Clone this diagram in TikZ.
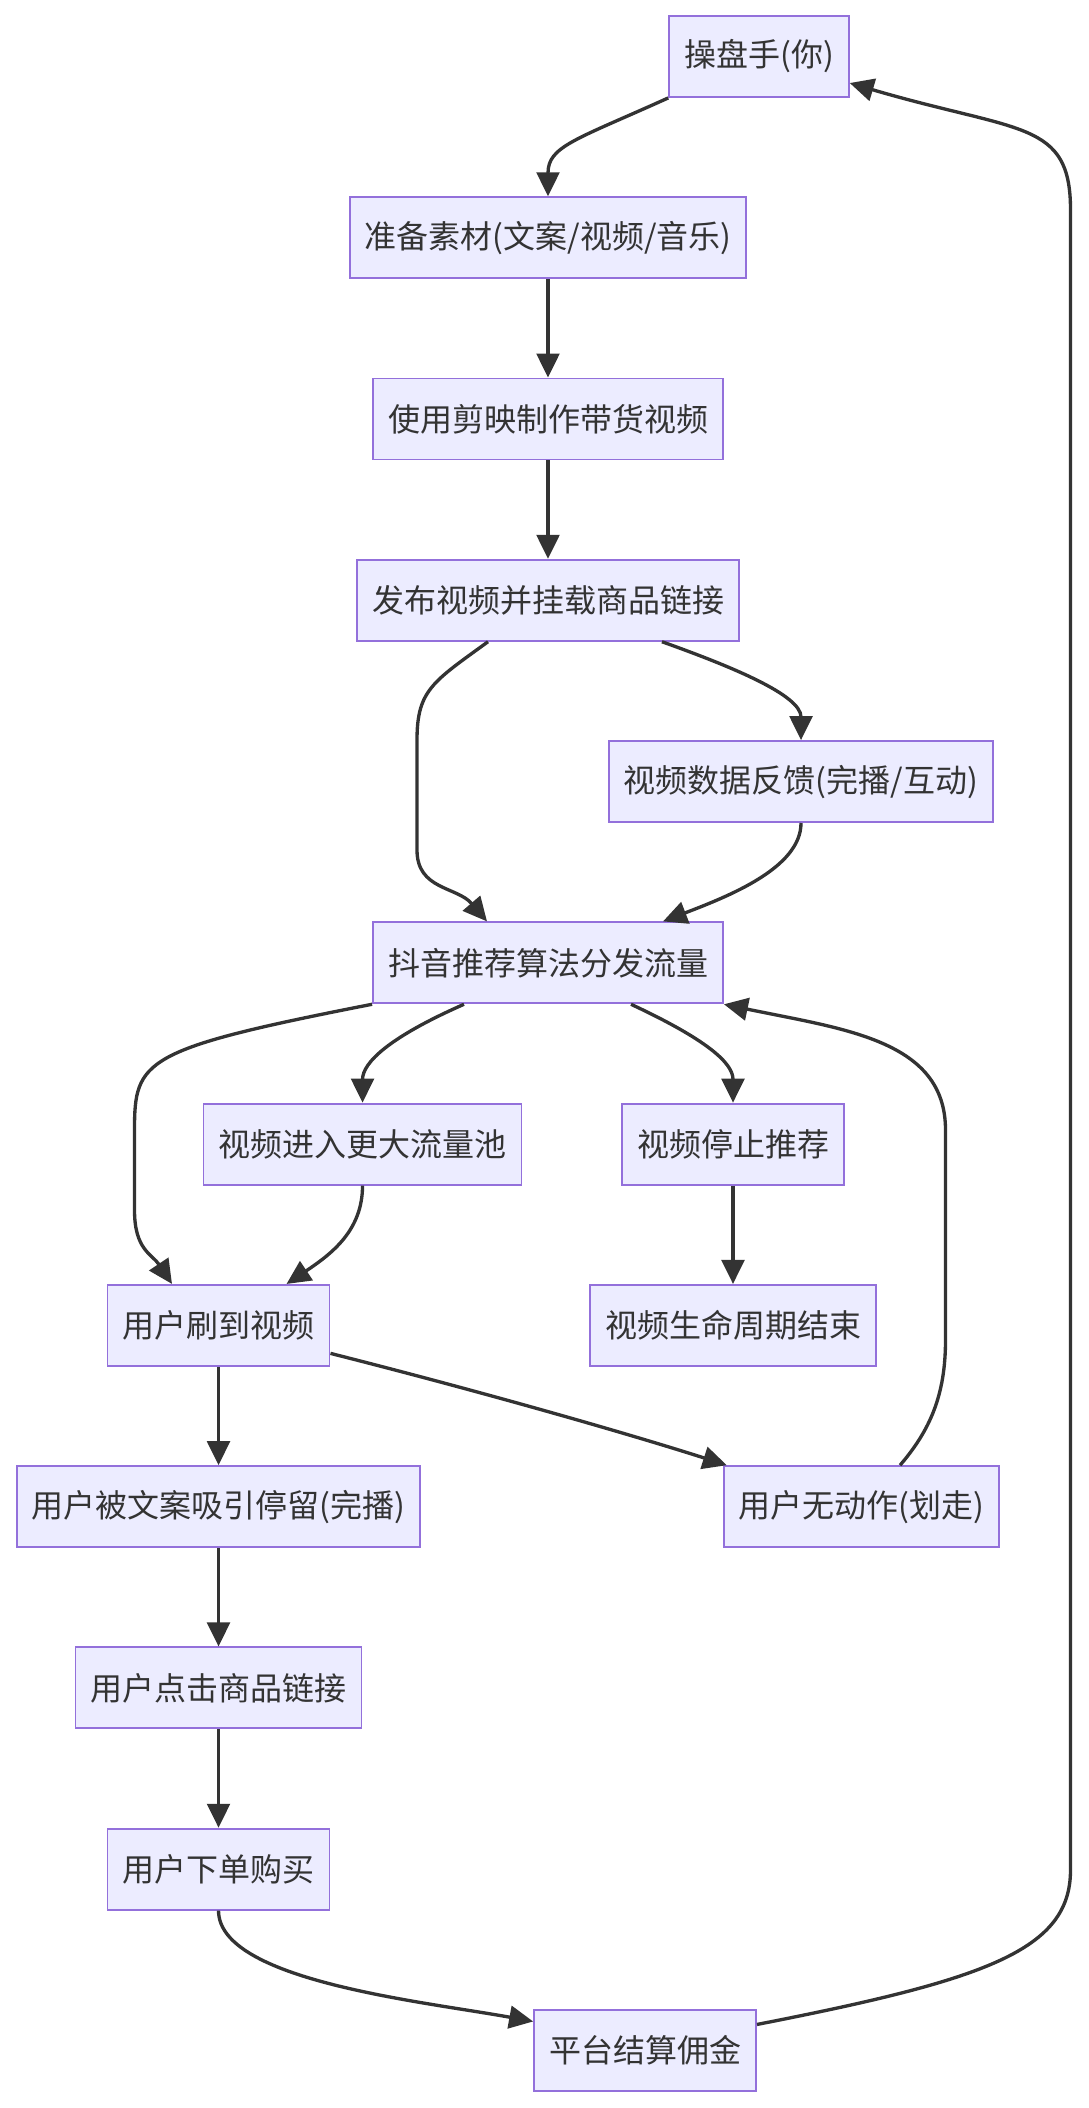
\documentclass[tikz,border=0pt]{standalone}
\usepackage{fontspec}
\newfontfamily\cjk{Noto Sans CJK SC}
\usetikzlibrary{arrows.meta, positioning, calc}
\definecolor{nodefill}{HTML}{ECECFF}
\definecolor{nodeline}{HTML}{9370DB}
\definecolor{ink}{HTML}{333333}

\begin{document}
\begin{tikzpicture}[
    x=0.75pt, y=-0.75pt,
    node distance=73.8pt,
    stg/.style={draw=nodeline, fill=nodefill, line width=1.4pt, minimum height=60.75pt, inner xsep=11.25pt, inner ysep=0pt, text=ink, font=\cjk\fontsize{24pt}{28pt}\selectfont},
    arr/.style={-{Triangle[length=18pt, width=17pt]}, line width=2.5pt, ink},
]
    \useasboundingbox (0,0) rectangle (1088,2108);

    \node[stg] (op) at (759,56.5) {操盘手(你)};
    \node[stg, below=of op, xshift=-158.25pt] (prep) {准备素材(文案/视频/音乐)};
    \node[stg, below=of prep] (edit) {使用剪映制作带货视频};
    \node[stg, below=of edit] (pub) {发布视频并挂载商品链接};
    \node[stg, below=of pub, xshift=189.75pt] (fb) {视频数据反馈(完播/互动)};
    \node[stg, below=of fb, xshift=-189.75pt] (algo) {抖音推荐算法分发流量};
    \node[stg, below=of algo, xshift=-139.1pt] (pool) {视频进入更大流量池};
    \node[stg, below=of algo, xshift=138.75pt] (stop) {视频停止推荐};
    \node[stg, below=of pool, xshift=-108pt] (see) {用户刷到视频};
    \node[stg, below=of stop] (lifeend) {视频生命周期结束};
    \node[stg, below=of see] (stay) {用户被文案吸引停留(完播)};
    \node[stg, below=of see, xshift=482.25pt] (skip) {用户无动作(划走)};
    \node[stg, below=of stay] (click) {用户点击商品链接};
    \node[stg, below=of click] (buy) {用户下单购买};
    \node[stg, below=of buy, xshift=319.9pt] (pay) {平台结算佣金};

    \draw[arr] (op.south west) .. controls +(-93,42) and +(0,-50) .. (prep.north);
    \draw[arr] (prep) -- (edit);
    \draw[arr] (edit) -- (pub);
    \draw[arr] ([xshift=-45pt]pub.south) .. controls +(-55,40) and +(0,-50) .. (417,740) -- (417,850) .. controls +(0,40) and +(-30,-35) .. ([xshift=-45.75pt]algo.north);
    \draw[arr] ([xshift=85.5pt]pub.south) .. controls +(70,25) and +(0,-45) .. (fb.north);
    \draw[arr] (fb.south) .. controls +(0,45) and +(65,-25) .. ([xshift=86.25pt]algo.north);

    % Traffic split
    \draw[arr] (algo.south west) .. controls +(-230,45) and +(0,-70) .. (134.5,1130) -- (134.5,1210) .. controls +(0,40) and +(-20,-30) .. ([xshift=-34.9pt]see.north);
    \draw[arr] ([xshift=-63pt]algo.south) .. controls +(-75,33) and +(0,-40) .. (pool.north);
    \draw[arr] ([xshift=62.25pt]algo.south) .. controls +(75,35) and +(0,-40) .. (stop.north);
    \draw[arr] (pool.south) .. controls +(0,45) and +(45,-30) .. ([xshift=51pt]see.north);
    \draw[arr] (stop) -- (lifeend);

    % User side
    \draw[arr] (see) -- (stay);
    \draw[arr] ([yshift=-21pt]see.east) .. controls +(150,38) and +(-100,-32) .. ([xshift=3pt]skip.north west);
    \draw[arr] ([xshift=28.9pt]skip.north) .. controls +(30,-35) and +(0,55) .. (945.5,1340) -- (945.5,1130) .. controls +(0,-90) and +(120,25) .. (algo.south east);
    \draw[arr] (stay) -- (click);
    \draw[arr] (click) -- (buy);
    \draw[arr] (buy.south) .. controls +(0,70) and +(-110,-20) .. ([yshift=21.75pt]pay.west);
    \draw[arr] ([yshift=19.5pt]pay.east) .. controls +(230,-45) and +(0,80) .. (1070.5,1870) -- (1070.5,210) .. controls +(0,-90) and +(170,50) .. ([yshift=-19.9pt]op.east);
\end{tikzpicture}
\end{document}
